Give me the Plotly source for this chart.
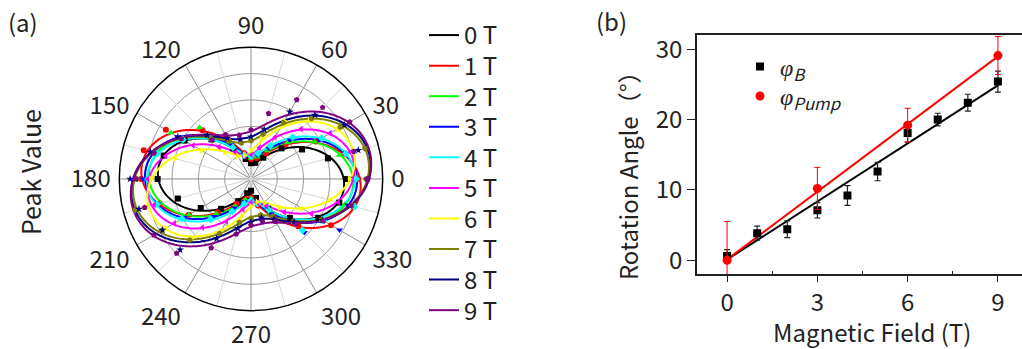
import plotly.graph_objects as go
import numpy as np

FONT = "Noto Sans CJK SC"
TXT = "#222222"

# ---------------- panel (a): peak value vs polarization angle ----------------
field_labels = ["0 T", "1 T", "2 T", "3 T", "4 T", "5 T", "6 T", "7 T", "8 T", "9 T"]
colors = ["#000000", "#FF0000", "#00FF00", "#0000FF", "#00FFFF",
          "#FF00FF", "#FFFF00", "#808000", "#000080", "#800080"]
symbols = ["square", "circle", "triangle-up", "triangle-down", "diamond",
           "triangle-left", "triangle-right", "hexagon", "star", "pentagon"]

angles_deg = list(range(0, 360, 15))

peak_0T = [0.97, 0.81, 0.60, 0.44, 0.25, 0.17, 0.16, 0.21, 0.36, 0.57, 0.78, 0.92,
           0.95, 0.77, 0.59, 0.43, 0.26, 0.15, 0.12, 0.20, 0.35, 0.56, 0.79, 0.93]
peak_1T = [1.09, 0.99, 0.76, 0.50, 0.30, 0.22, 0.20, 0.27, 0.45, 0.70, 1.00, 1.13,
           1.12, 0.96, 0.73, 0.48, 0.29, 0.21, 0.19, 0.28, 0.44, 0.68, 0.94, 1.08]
peak_2T = [1.02, 0.93, 0.75, 0.52, 0.33, 0.23, 0.21, 0.26, 0.42, 0.74, 0.94, 1.00,
           1.05, 0.95, 0.73, 0.50, 0.32, 0.22, 0.20, 0.25, 0.40, 0.62, 0.84, 0.99]
peak_3T = [1.06, 0.99, 0.80, 0.56, 0.36, 0.25, 0.22, 0.26, 0.40, 0.61, 0.86, 1.03,
           1.10, 0.98, 0.78, 0.54, 0.34, 0.24, 0.21, 0.27, 0.41, 0.77, 1.04, 1.02]
peak_4T = [1.07, 1.00, 0.83, 0.60, 0.39, 0.27, 0.23, 0.25, 0.37, 0.57, 0.80, 0.99,
           1.05, 0.99, 0.81, 0.58, 0.38, 0.26, 0.22, 0.26, 0.36, 0.74, 0.85, 1.09]
peak_5T = [1.03, 1.05, 0.93, 0.72, 0.49, 0.33, 0.25, 0.24, 0.31, 0.46, 0.68, 0.90,
           1.05, 1.02, 0.90, 0.70, 0.50, 0.32, 0.24, 0.25, 0.32, 0.48, 0.71, 0.92]
peak_6T = [1.00, 1.07, 1.02, 0.84, 0.68, 0.42, 0.29, 0.25, 0.27, 0.38, 0.58, 0.80,
           1.02, 1.09, 1.00, 0.85, 0.61, 0.40, 0.28, 0.24, 0.28, 0.41, 0.60, 0.83]
peak_7T = [1.17, 1.20, 1.05, 0.87, 0.66, 0.47, 0.39, 0.38, 0.45, 0.60, 0.82, 1.03,
           1.16, 1.22, 1.05, 0.88, 0.64, 0.46, 0.40, 0.38, 0.44, 0.61, 0.83, 1.06]
peak_8T = [1.19, 1.13, 1.10, 0.92, 0.79, 0.52, 0.43, 0.42, 0.48, 0.63, 0.86, 1.06,
           1.23, 1.18, 1.04, 1.02, 0.70, 0.52, 0.44, 0.41, 0.47, 0.62, 0.84, 1.04]
peak_9T = [1.18, 1.08, 1.16, 1.03, 0.93, 0.69, 0.50, 0.46, 0.52, 0.56, 0.82, 1.02,
           1.17, 1.12, 1.14, 1.07, 0.81, 0.58, 0.47, 0.45, 0.50, 0.65, 0.85, 1.05]
peak_values = [peak_0T, peak_1T, peak_2T, peak_3T, peak_4T,
               peak_5T, peak_6T, peak_7T, peak_8T, peak_9T]

# fitted curves: r = offset + amp * |cos(theta - phase)|^FIT_POWER
fit_offset = [0.16, 0.20, 0.21, 0.22, 0.23, 0.24, 0.25, 0.38, 0.42, 0.47]
fit_amp = [0.79, 0.92, 0.83, 0.86, 0.83, 0.82, 0.83, 0.83, 0.81, 0.77]
fit_phase = [-5, -6, -3, -2, 1, 8, 15, 9, 10, 12]
FIT_POWER = 2.5

R_MAX = 1.34
radial_grid = [0.268, 0.536, 0.804, 1.072]

# ---------------- panel (b): rotation angle vs field ----------------
field_T = [0, 1, 2, 3, 4, 5, 6, 7, 8, 9]
phi_B = [0.6, 3.85, 4.4, 7.1, 9.2, 12.6, 18.1, 20.0, 22.4, 25.4]
phi_B_err = [0.9, 1.0, 1.2, 1.1, 1.4, 1.3, 1.3, 0.9, 1.2, 1.5]
pump_field = [0, 3, 6, 9]
phi_pump = [0.0, 10.2, 19.2, 29.1]
phi_pump_err = [5.5, 3.0, 2.4, 2.7]
fit_B_slope, fit_B_icpt = 2.75, 0.1
fit_pump_slope, fit_pump_icpt = 3.21, 0.1

PHI = '<span style="font-family:Liberation Serif"><i>φ</i></span>'

fig = go.Figure()

# light 15-degree spokes between the 30-degree grid lines
spoke_r, spoke_t = [], []
for a in range(15, 360, 30):
    spoke_r += [0, R_MAX, None]
    spoke_t += [a, a, None]
fig.add_trace(go.Scatterpolar(r=spoke_r, theta=spoke_t, mode="lines",
                              line=dict(color="#d6d6d6", width=1),
                              hoverinfo="skip", showlegend=False))

legend_layout = {}
theta_fine = np.arange(0, 361, 1.0)
for i in range(len(field_labels)):
    r_fit = fit_offset[i] + fit_amp[i] * np.abs(
        np.cos(np.radians(theta_fine - fit_phase[i]))) ** FIT_POWER
    key = "legend" if i == 0 else f"legend{i + 1}"
    fig.add_trace(go.Scatterpolar(r=r_fit, theta=theta_fine, mode="lines",
                                  line=dict(color=colors[i], width=2),
                                  name=field_labels[i], legend=key))
    legend_layout[key] = dict(x=424 / 1022, y=1 - (31 + 31.1 * i) / 349,
                              xanchor="left", yanchor="middle",
                              font=dict(size=24, color=TXT), bgcolor="rgba(0,0,0,0)",
                              itemwidth=30)
for i in range(len(field_labels)):
    fig.add_trace(go.Scatterpolar(r=peak_values[i], theta=angles_deg, mode="markers",
                                  marker=dict(color=colors[i], symbol=symbols[i], size=6),
                                  showlegend=False))

# panel (b)
xb_fit = np.array([0, 9])
fig.add_trace(go.Scatter(x=xb_fit, y=fit_B_slope * xb_fit + fit_B_icpt, mode="lines",
                         line=dict(color="black", width=2), showlegend=False,
                         xaxis="x", yaxis="y"))
fig.add_trace(go.Scatter(x=xb_fit, y=fit_pump_slope * xb_fit + fit_pump_icpt, mode="lines",
                         line=dict(color="red", width=2), showlegend=False,
                         xaxis="x", yaxis="y"))
fig.add_trace(go.Scatter(x=field_T, y=phi_B, mode="markers",
                         marker=dict(symbol="square", color="black", size=8),
                         error_y=dict(type="data", array=phi_B_err, color=TXT,
                                      thickness=1.2, width=3),
                         name=PHI + "<sub><i>B</i></sub>", legend="legend11",
                         xaxis="x", yaxis="y"))
fig.add_trace(go.Scatter(x=pump_field, y=phi_pump, mode="markers",
                         marker=dict(symbol="circle", color="red", size=9),
                         error_y=dict(type="data", array=phi_pump_err, color="red",
                                      thickness=1, width=3),
                         name=PHI + "<sub><i>Pump</i></sub>", legend="legend12",
                         xaxis="x", yaxis="y"))
for key, yc in (("legend11", 63), ("legend12", 93)):
    legend_layout[key] = dict(x=740 / 1022, y=1 - yc / 349, xanchor="left",
                              yanchor="middle", font=dict(size=24, color=TXT),
                              bgcolor="rgba(0,0,0,0)", itemwidth=30)

fig.update_layout(
    width=1022, height=349,
    margin=dict(l=0, r=0, t=0, b=0),
    paper_bgcolor="white", plot_bgcolor="white",
    font=dict(family=FONT, size=24, color=TXT),
    polar=dict(
        domain=dict(x=[117 / 1022, 385 / 1022], y=[38 / 349, 306 / 349]),
        bgcolor="white",
        angularaxis=dict(direction="counterclockwise", rotation=0,
                         tickmode="array", tickvals=list(range(0, 360, 30)),
                         ticktext=[str(v) for v in range(0, 360, 30)],
                         ticks="outside", ticklen=3, tickcolor="rgba(0,0,0,0)",
                         showline=True, linecolor="black", linewidth=1.5,
                         gridcolor="#8a8a8a", gridwidth=1,
                         tickfont=dict(size=24, color=TXT)),
        radialaxis=dict(range=[0, R_MAX], tickmode="array", tickvals=radial_grid,
                        showticklabels=False, ticks="", showline=False,
                        gridcolor="#9a9a9a", gridwidth=1),
    ),
    xaxis=dict(domain=[697 / 1022, 1.0], range=[-1, 9.8], tickvals=[0, 3, 6, 9],
               showline=True, linecolor=TXT, linewidth=1.5, mirror=True,
               ticks="outside", ticklen=6, tickcolor=TXT,
               minor=dict(tickvals=[1.5, 4.5, 7.5], ticks="inside", ticklen=4,
                          tickcolor=TXT),
               showgrid=False, zeroline=False, anchor="y",
               tickfont=dict(size=24)),
    yaxis=dict(domain=[75 / 349, 318.3 / 349], range=[-2, 32], tickvals=[0, 10, 20, 30],
               showline=True, linecolor=TXT, linewidth=1.5, mirror=False,
               ticks="outside", ticklen=8, tickcolor=TXT,
               showgrid=False, zeroline=False, anchor="x",
               tickfont=dict(size=24)),
    annotations=[
        dict(text="(a)", x=23 / 1022, y=1 - 17 / 349),
        dict(text="(b)", x=611 / 1022, y=1 - 16 / 349),
        dict(text="Peak Value", x=30 / 1022, y=1 - 170 / 349, textangle=-90,
             font=dict(size=25)),
        dict(text="Rotation Angle（°）", x=627 / 1022, y=1 - 168 / 349, textangle=-90),
        dict(text="Magnetic Field (T)", x=872 / 1022, y=1 - 332 / 349),
    ],
    **legend_layout,
)
fig.update_annotations(xref="paper", yref="paper", showarrow=False,
                       xanchor="center", yanchor="middle")

fig.write_html("out.html")
